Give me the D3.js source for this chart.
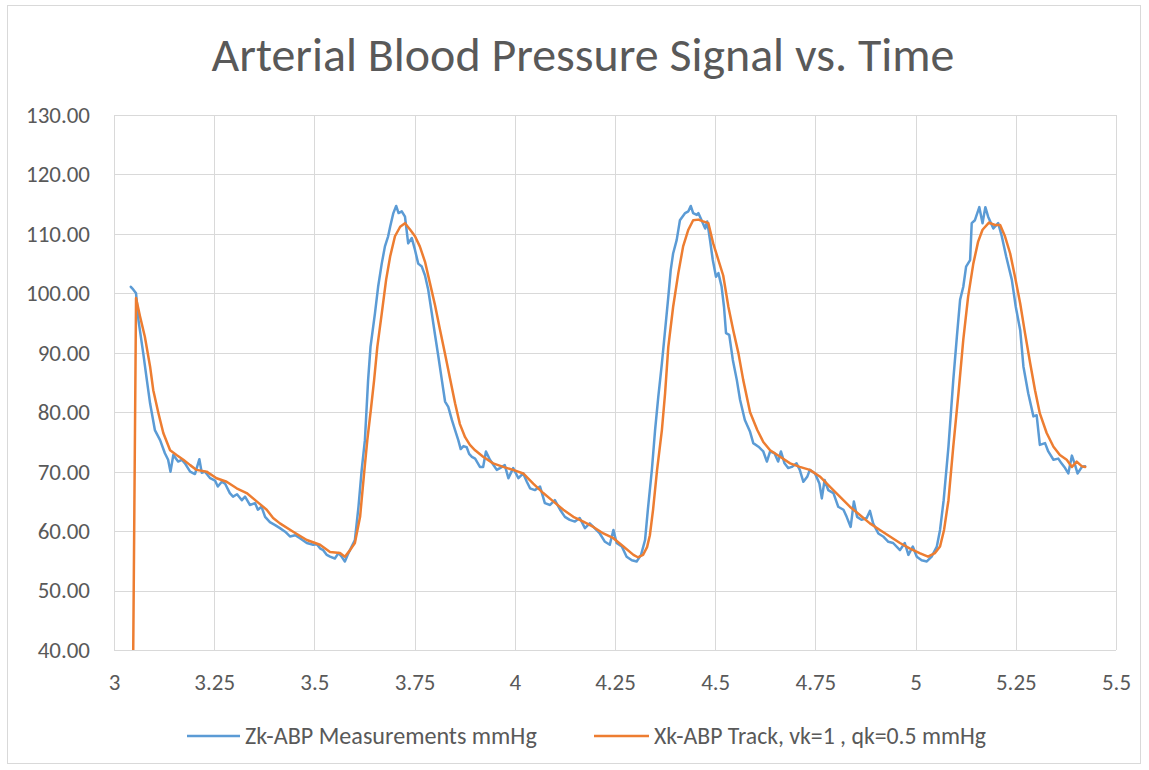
<!DOCTYPE html>
<html>
<head>
<meta charset="utf-8">
<script src="https://cdn.jsdelivr.net/npm/d3@7"></script>
<style>
html,body{margin:0;padding:0;background:#fff;}
svg{display:block;}
text{font-family:"Carlito","Open Sans","Liberation Sans",sans-serif;fill:#595959;}
</style>
</head>
<body>
<svg id="chart" width="1149" height="770"></svg>
<script>
const titleText = "Arterial Blood Pressure Signal vs. Time";
const seriesNames = ["Zk-ABP Measurements mmHg", "Xk-ABP Track, vk=1 , qk=0.5 mmHg"];
const xTicks = [3, 3.25, 3.5, 3.75, 4, 4.25, 4.5, 4.75, 5, 5.25, 5.5];
const xTickLabels = ["3", "3.25", "3.5", "3.75", "4", "4.25", "4.5", "4.75", "5", "5.25", "5.5"];
const yTicks = [40, 50, 60, 70, 80, 90, 100, 110, 120, 130];
const yTickLabels = ["40.00", "50.00", "60.00", "70.00", "80.00", "90.00", "100.00", "110.00", "120.00", "130.00"];

// Zk measurements (time s, mmHg)
const blueT = [3.042,3.046,3.055,3.061,3.073,3.082,3.090,3.102,3.115,3.127,3.135,3.141,3.148,3.160,3.169,3.177,3.190,3.202,3.213,3.219,3.227,3.240,3.252,3.259,3.269,3.277,3.289,3.297,3.307,3.319,3.327,3.339,3.352,3.359,3.368,3.377,3.389,3.402,3.414,3.427,3.439,3.452,3.464,3.481,3.497,3.506,3.514,3.522,3.531,3.539,3.551,3.560,3.567,3.576,3.585,3.593,3.601,3.610,3.618,3.626,3.634,3.640,3.651,3.659,3.668,3.676,3.684,3.689,3.697,3.704,3.710,3.718,3.726,3.734,3.743,3.751,3.759,3.768,3.776,3.784,3.793,3.801,3.809,3.818,3.826,3.834,3.843,3.851,3.859,3.865,3.872,3.880,3.886,3.893,3.901,3.913,3.921,3.928,3.938,3.946,3.955,3.963,3.975,3.984,3.996,4.009,4.021,4.030,4.038,4.050,4.063,4.075,4.088,4.100,4.113,4.125,4.137,4.150,4.162,4.175,4.187,4.196,4.212,4.225,4.237,4.246,4.254,4.267,4.279,4.292,4.304,4.315,4.325,4.332,4.342,4.350,4.358,4.367,4.375,4.383,4.389,4.395,4.404,4.412,4.425,4.433,4.439,4.445,4.454,4.458,4.466,4.475,4.480,4.487,4.494,4.502,4.508,4.516,4.522,4.527,4.535,4.544,4.554,4.562,4.574,4.587,4.595,4.608,4.620,4.629,4.637,4.648,4.657,4.664,4.673,4.682,4.691,4.703,4.711,4.720,4.730,4.736,4.749,4.760,4.766,4.773,4.782,4.795,4.807,4.820,4.828,4.838,4.846,4.854,4.865,4.878,4.886,4.894,4.907,4.919,4.932,4.944,4.961,4.973,4.982,4.993,5.003,5.015,5.028,5.040,5.053,5.061,5.070,5.082,5.094,5.103,5.111,5.119,5.126,5.136,5.140,5.148,5.159,5.167,5.174,5.181,5.194,5.206,5.215,5.226,5.240,5.250,5.261,5.269,5.281,5.294,5.302,5.310,5.323,5.331,5.344,5.356,5.364,5.373,5.381,5.390,5.398,5.404,5.415,5.423];
const blueV = [101.1,100.8,100.0,95.5,89.9,85.4,81.5,77.0,75.3,73.1,72.0,70.0,72.8,71.7,72.0,71.4,70.0,69.6,72.1,69.8,70.0,68.9,68.5,67.5,68.3,68.0,66.4,65.8,66.2,65.2,65.8,64.4,64.7,63.6,64.1,62.4,61.5,61.0,60.5,59.9,59.1,59.3,58.8,58.0,57.7,57.8,57.1,56.8,56.0,55.7,55.4,56.3,55.8,54.9,56.3,57.4,58.5,64.1,70.3,75.3,85.4,91.0,96.6,101.1,105.0,107.9,109.6,111.2,113.5,114.7,113.5,113.8,112.9,108.4,109.3,107.3,105.0,104.5,103.0,100.6,96.6,93.0,89.5,85.4,81.8,80.9,78.7,77.0,75.3,73.8,74.3,74.1,73.0,72.5,72.2,70.8,70.8,73.4,72.0,71.2,70.3,70.6,71.1,68.9,70.6,68.9,69.7,68.3,67.2,66.9,67.5,64.7,64.4,65.2,63.6,62.4,61.9,61.6,62.2,60.5,61.3,60.7,59.6,58.2,57.7,60.2,58.0,57.4,55.7,55.1,54.9,56.0,58.5,63.6,70.3,77.0,82.6,88.2,93.8,99.4,103.9,106.7,109.0,112.3,113.5,113.8,114.7,113.5,113.2,113.5,112.3,110.9,112.1,109.0,105.6,102.8,103.4,101.1,97.7,93.3,93.0,88.8,85.4,82.1,78.7,76.7,74.8,74.2,73.4,71.7,73.4,73.1,71.7,73.4,71.4,70.6,70.8,71.4,70.3,68.3,69.2,70.3,69.7,68.0,65.5,68.6,66.9,66.4,64.1,63.6,62.4,60.7,65.0,62.4,61.9,62.2,63.4,61.3,59.6,59.1,58.2,58.0,56.8,58.0,56.0,57.4,55.7,55.1,54.9,55.7,57.4,60.2,65.2,74.2,85.4,92.7,98.9,101.1,104.5,105.6,111.8,112.3,114.5,111.8,114.5,112.9,110.9,111.8,109.6,106.2,102.3,97.7,93.8,87.7,83.2,79.3,79.5,74.5,74.8,73.4,72.0,72.2,71.4,70.6,69.7,72.7,71.1,69.7,70.8,70.9];

// Xk track (time s, mmHg)
const orangeT = [3.048,3.055,3.065,3.077,3.090,3.098,3.111,3.123,3.140,3.156,3.173,3.190,3.206,3.231,3.256,3.281,3.306,3.331,3.356,3.381,3.397,3.414,3.447,3.481,3.514,3.539,3.564,3.576,3.589,3.601,3.614,3.624,3.632,3.641,3.649,3.657,3.668,3.679,3.689,3.701,3.714,3.726,3.739,3.751,3.763,3.776,3.788,3.801,3.813,3.826,3.838,3.851,3.863,3.876,3.888,3.901,3.921,3.946,3.971,3.996,4.021,4.046,4.071,4.096,4.121,4.146,4.171,4.196,4.221,4.246,4.271,4.296,4.307,4.320,4.330,4.337,4.345,4.355,4.367,4.375,4.383,4.395,4.408,4.420,4.433,4.445,4.458,4.470,4.483,4.495,4.508,4.520,4.533,4.545,4.558,4.570,4.587,4.605,4.620,4.637,4.662,4.687,4.711,4.736,4.761,4.786,4.811,4.836,4.861,4.886,4.911,4.936,4.961,4.985,5.010,5.031,5.048,5.061,5.071,5.082,5.094,5.107,5.119,5.131,5.144,5.156,5.167,5.183,5.198,5.211,5.223,5.236,5.248,5.261,5.273,5.286,5.298,5.310,5.327,5.344,5.360,5.377,5.390,5.402,5.415,5.423];
const orangeV = [40.0,99.2,96.1,92.7,87.7,83.7,79.8,76.5,73.6,72.8,72.0,71.1,70.3,70.0,68.9,68.3,67.2,66.4,65.0,63.6,62.2,61.3,59.9,58.5,57.7,56.5,56.3,55.7,56.8,58.0,62.4,69.7,75.3,80.5,85.4,91.0,96.6,102.3,106.2,109.6,111.2,111.8,110.7,109.6,107.9,105.3,101.8,98.0,94.0,89.8,85.8,81.5,78.0,75.8,74.5,73.6,72.5,71.4,70.8,70.3,69.7,68.0,66.4,65.0,63.6,62.4,61.6,60.7,59.6,58.8,57.4,56.0,55.6,56.0,57.3,59.3,63.6,70.3,77.0,83.2,91.0,97.7,103.4,107.9,110.7,112.3,112.4,112.1,111.8,108.4,105.6,103.0,97.7,93.8,89.9,85.4,80.0,77.0,75.0,73.6,72.5,71.4,70.8,70.3,69.2,67.5,65.8,64.1,62.7,61.3,60.2,59.1,58.0,57.1,56.3,55.7,56.3,57.4,60.2,65.2,74.2,83.2,92.2,99.4,105.0,108.7,110.7,111.9,111.5,111.5,109.6,106.7,102.8,98.3,93.3,88.2,83.7,79.8,76.5,74.2,72.8,72.0,70.8,71.7,70.9,70.8];

const colors = ["#5B9BD5", "#ED7D31"];

const svg = d3.select("#chart");
const plot = {left: 114, right: 1116, top: 115, bottom: 650};

// chart border
svg.append("rect").attr("x", 7.5).attr("y", 5.5).attr("width", 1133).attr("height", 758)
  .attr("fill", "#fff").attr("stroke", "#D9D9D9").attr("stroke-width", 1);

const x = d3.scaleLinear().domain([3, 5.5]).range([plot.left, plot.right]);
const y = d3.scaleLinear().domain([40, 130]).range([plot.bottom, plot.top]);

function fit(sel, target) {
  const w = sel.node().getComputedTextLength();
  const fs = parseFloat(sel.attr("font-size"));
  if (w > 0) sel.attr("font-size", (fs * target / w).toFixed(2));
}

// grid
const grid = svg.append("g");
grid.selectAll("line.h").data(yTicks).enter().append("line")
  .attr("x1", plot.left).attr("x2", plot.right)
  .attr("y1", d => Math.round(y(d)) + 0.5).attr("y2", d => Math.round(y(d)) + 0.5)
  .attr("stroke", "#D9D9D9").attr("stroke-width", 1);
grid.selectAll("line.v").data(xTicks).enter().append("line")
  .attr("y1", plot.top).attr("y2", plot.bottom)
  .attr("x1", d => Math.round(x(d)) + 0.5).attr("x2", d => Math.round(x(d)) + 0.5)
  .attr("stroke", "#D9D9D9").attr("stroke-width", 1);

// measure tick font size
const probe = svg.append("text").attr("font-size", 20).text("130.00");
fit(probe, 64);
const tickFs = parseFloat(probe.attr("font-size"));
probe.remove();

// y axis labels
const yAxis = d3.axisLeft(y).tickValues(yTicks).tickFormat((d, i) => yTickLabels[i]).tickSize(0).tickPadding(0);
const yg = svg.append("g").attr("transform", `translate(${90},0)`).call(yAxis);
yg.select(".domain").remove();
yg.selectAll("text").attr("font-size", tickFs).attr("fill", "#595959")
  .style("font-family", '"Carlito","Open Sans","Liberation Sans",sans-serif');

// x axis labels
const xAxis = d3.axisBottom(x).tickValues(xTicks).tickFormat((d, i) => xTickLabels[i]).tickSize(0).tickPadding(0);
const xg = svg.append("g").attr("transform", `translate(0,${674})`).call(xAxis);
xg.select(".domain").remove();
xg.selectAll("text").attr("font-size", tickFs).attr("fill", "#595959")
  .style("font-family", '"Carlito","Open Sans","Liberation Sans",sans-serif');

// lines
svg.append("defs").append("clipPath").attr("id", "clip").append("rect")
  .attr("x", plot.left).attr("y", plot.top - 5).attr("width", plot.right - plot.left + 5).attr("height", plot.bottom - plot.top + 5);
const line = d3.line().x(d => x(d[0])).y(d => y(d[1]));
const series = [
  d3.zip(blueT, blueV),
  d3.zip(orangeT, orangeV)
];
const lg = svg.append("g").attr("clip-path", "url(#clip)");
lg.append("path").datum(series[0]).attr("d", line).attr("fill", "none")
  .attr("stroke", colors[0]).attr("stroke-width", 2.5).attr("stroke-linejoin", "round").attr("stroke-linecap", "round");
lg.append("path").datum(series[1]).attr("d", line).attr("fill", "none")
  .attr("stroke", colors[1]).attr("stroke-width", 2.5).attr("stroke-linejoin", "round").attr("stroke-linecap", "round");

// title
const t = svg.append("text").attr("x", 583).attr("y", 71).attr("text-anchor", "middle")
  .attr("font-size", 36).attr("font-weight", 300).text(titleText);
fit(t, 743);

// legend
const legendItems = [
  {sx1: 187, sx2: 240, tx: 245, w: 292},
  {sx1: 594, sx2: 649, tx: 654, w: 332}
];
const leg = svg.append("g");
legendItems.forEach((it, i) => {
  leg.append("line").attr("x1", it.sx1).attr("x2", it.sx2).attr("y1", 736).attr("y2", 736)
    .attr("stroke", colors[i]).attr("stroke-width", 2.6);
  const tt = leg.append("text").attr("x", it.tx).attr("y", 736).attr("dy", "0.35em")
    .attr("font-size", 20).text(seriesNames[i]);
  fit(tt, it.w);
});
</script>
</body>
</html>
